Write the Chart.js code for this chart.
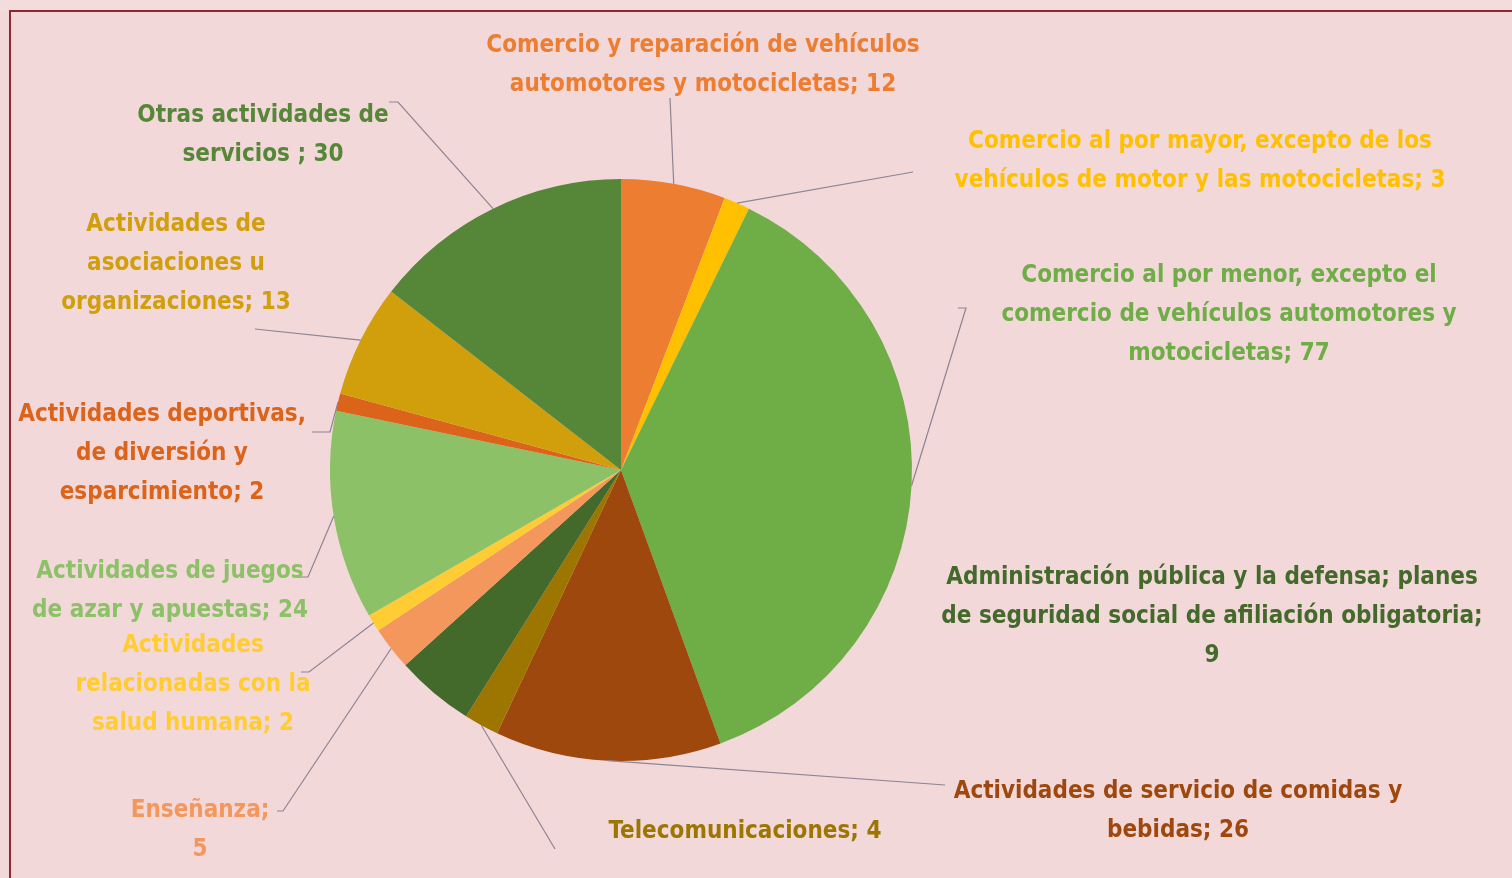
<!DOCTYPE html>
<html>
<head>
<meta charset="utf-8">
<script src="https://cdn.jsdelivr.net/npm/chart.js@4"></script>
<style>
  html, body { margin: 0; padding: 0; background: #f3d8da; overflow: hidden; }
  canvas { display: block; }
</style>
</head>
<body>
<canvas id="myChart" width="1512" height="878"></canvas>
<script>
(function () {
  "use strict";

  // categories, in the order the slices go round (clockwise from the top)
  var sectores = [
    "Comercio y reparación de vehículos automotores y motocicletas",
    "Comercio al por mayor, excepto de los vehículos de motor y las motocicletas",
    "Comercio al por menor, excepto el comercio de vehículos automotores y motocicletas",
    "Actividades de servicio de comidas y bebidas",
    "Telecomunicaciones",
    "Administración pública y la defensa; planes de seguridad social de afiliación obligatoria",
    "Enseñanza",
    "Actividades relacionadas con la salud humana",
    "Actividades de juegos de azar y apuestas",
    "Actividades deportivas, de diversión y esparcimiento",
    "Actividades de asociaciones u organizaciones",
    "Otras actividades de servicios "
  ];
  var empresas = [12, 3, 77, 26, 4, 9, 5, 2, 24, 2, 13, 30];

  var colores = [
    "#ED7D31", "#FFC000", "#6FAD46", "#9E480E", "#9C7600", "#43692B",
    "#F3975C", "#FFCD33", "#8CC168", "#DB631A", "#D19F0C", "#568637"
  ];

  // how each label is broken into lines (text only)
  var etiquetas = [
    ["Comercio y reparación de vehículos", "automotores y motocicletas; 12"],
    ["Comercio al por mayor, excepto de los", "vehículos de motor y las motocicletas; 3"],
    ["Comercio al por menor, excepto el", "comercio de vehículos automotores y", "motocicletas; 77"],
    ["Actividades de servicio de comidas y", "bebidas; 26"],
    ["Telecomunicaciones; 4"],
    ["Administración pública y la defensa; planes", "de seguridad social de afiliación obligatoria;", "9"],
    ["Enseñanza;", "5"],
    ["Actividades", "relacionadas con la", "salud humana; 2"],
    ["Actividades de juegos", "de azar y apuestas; 24"],
    ["Actividades deportivas,", "de diversión y", "esparcimiento; 2"],
    ["Actividades de", "asociaciones u", "organizaciones; 13"],
    ["Otras actividades de", "servicios ; 30"]
  ];

  // label layout, offsets from the pie centre: text centre of first line,
  // start of the leader line, and an optional short tick before it
  var posEtiquetas = [
    { tx: 82, ty: -424, lx: 49, ly: -372 },
    { tx: 579, ty: -328, lx: 292, ly: -298 },
    { tx: 608, ty: -194, lx: 345, ly: -162, tick: -8 },
    { tx: 557, ty: 322, lx: 324, ly: 315 },
    { tx: 124, ty: 362, lx: -66, ly: 379 },
    { tx: 591, ty: 108 },
    { tx: -421, ty: 341, lx: -338, ly: 341, tick: -6 },
    { tx: -428, ty: 176, lx: -312, ly: 202, tick: -8 },
    { tx: -451, ty: 102, lx: -313, ly: 107, tick: -9 },
    { tx: -459, ty: -55, lx: -291, ly: -38, tick: -18 },
    { tx: -445, ty: -245, lx: -366, ly: -141 },
    { tx: -358, ty: -354, lx: -223, ly: -368, tick: -9 }
  ];

  var fuente = '"Liberation Sans Narrow", "DejaVu Sans Condensed", "Arial Narrow", sans-serif';

  var fondo = {
    id: "fondo",
    beforeDraw: function (chart) {
      var c = chart.ctx;
      c.save();
      c.fillStyle = "#f3d8da";
      c.fillRect(0, 0, chart.width, chart.height);
      c.fillStyle = "#f5dcdc";
      c.fillRect(0, 0, chart.width, 10);
      c.strokeStyle = "#8e2834";
      c.lineWidth = 2;
      c.beginPath();
      c.moveTo(10, chart.height + 2);
      c.lineTo(10, 11);
      c.lineTo(chart.width + 2, 11);
      c.stroke();
      c.restore();
    }
  };

  var rotulos = {
    id: "rotulos",
    afterDatasetsDraw: function (chart) {
      var c = chart.ctx;
      var arcs = chart.getDatasetMeta(0).data;
      var cx = arcs[0].x, cy = arcs[0].y;
      c.save();
      for (var i = 0; i < arcs.length; i++) {
        var a = arcs[i];
        var p = posEtiquetas[i];
        // leader line: from label side to the slice edge at mid angle
        if (p.lx !== undefined) {
          var mid = (a.startAngle + a.endAngle) / 2;
          var ex = a.x + Math.cos(mid) * a.outerRadius;
          var ey = a.y + Math.sin(mid) * a.outerRadius;
          c.strokeStyle = "#8d8494";
          c.lineWidth = 1.2;
          c.beginPath();
          if (p.tick) {
            c.moveTo(cx + p.lx + p.tick, cy + p.ly);
          } else {
            c.moveTo(cx + p.lx, cy + p.ly);
          }
          c.lineTo(cx + p.lx, cy + p.ly);
          c.lineTo(ex, ey);
          c.stroke();
        }
        c.fillStyle = colores[i];
        c.font = "bold 24px " + fuente;
        c.textAlign = "center";
        c.textBaseline = "middle";
        var lines = etiquetas[i];
        for (var j = 0; j < lines.length; j++) {
          c.fillText(lines[j], cx + p.tx, cy + p.ty + j * 39);
        }
      }
      c.restore();
    }
  };

  var ctx = document.getElementById("myChart");
  var myChart = new Chart(ctx, {
    type: "pie",
    data: {
      labels: sectores,
      datasets: [
        {
          data: empresas,
          backgroundColor: colores,
          borderWidth: 0
        }
      ]
    },
    options: {
      responsive: false,
      animation: false,
      layout: { padding: { left: 330, right: 600, top: 179, bottom: 117 } },
      plugins: {
        legend: { display: false },
        tooltip: { enabled: false }
      }
    },
    plugins: [fondo, rotulos]
  });
})();
</script>
</body>
</html>
